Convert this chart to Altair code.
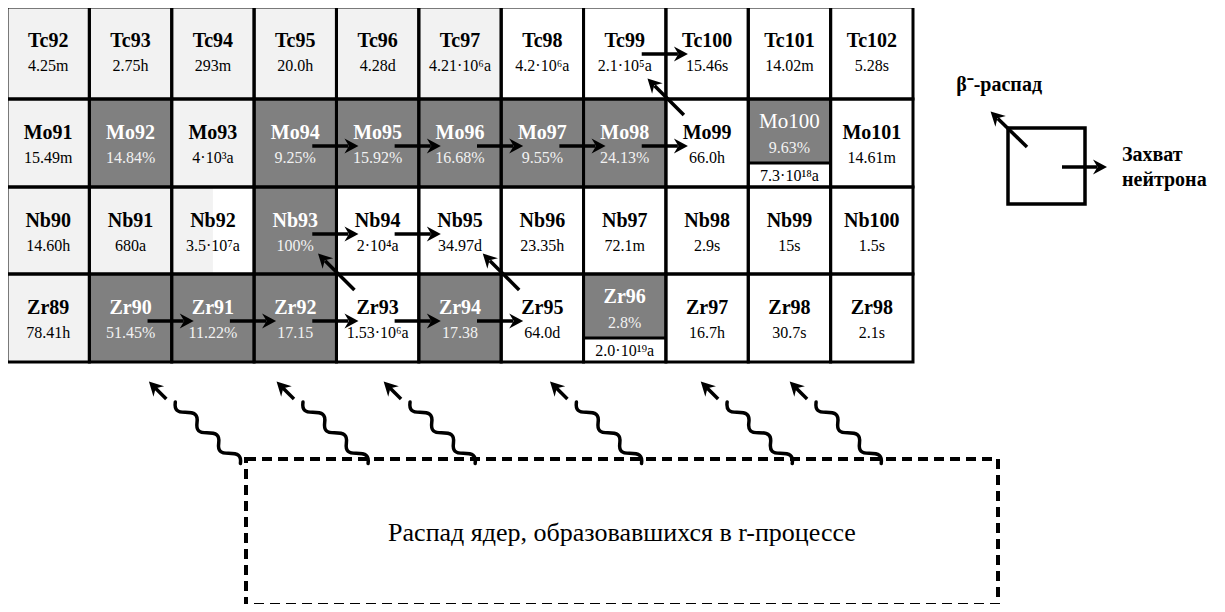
import math
import altair as alt
import pandas as pd

# ---------------- data ----------------
tc_labels = ["Tc92", "Tc93", "Tc94", "Tc95", "Tc96", "Tc97", "Tc98", "Tc99", "Tc100", "Tc101", "Tc102"]
tc_values = ["4.25m", "2.75h", "293m", "20.0h", "4.28d", "4.21·10⁶a", "4.2·10⁶a", "2.1·10⁵a", "15.46s", "14.02m", "5.28s"]
tc_kinds = ["L", "L", "L", "L", "L", "L", "W", "W", "W", "W", "W"]

mo_labels = ["Mo91", "Mo92", "Mo93", "Mo94", "Mo95", "Mo96", "Mo97", "Mo98", "Mo99", "Mo100", "Mo101"]
mo_values = ["15.49m", "14.84%", "4·10³a", "9.25%", "15.92%", "16.68%", "9.55%", "24.13%", "66.0h", "9.63%", "14.61m"]
mo_kinds = ["L", "D", "L", "D", "D", "D", "D", "D", "W", "S", "W"]

nb_labels = ["Nb90", "Nb91", "Nb92", "Nb93", "Nb94", "Nb95", "Nb96", "Nb97", "Nb98", "Nb99", "Nb100"]
nb_values = ["14.60h", "680a", "3.5·10⁷a", "100%", "2·10⁴a", "34.97d", "23.35h", "72.1m", "2.9s", "15s", "1.5s"]
nb_kinds = ["L", "L", "H", "D", "W", "W", "W", "W", "W", "W", "W"]

zr_labels = ["Zr89", "Zr90", "Zr91", "Zr92", "Zr93", "Zr94", "Zr95", "Zr96", "Zr97", "Zr98", "Zr98"]
zr_values = ["78.41h", "51.45%", "11.22%", "17.15", "1.53·10⁶a", "17.38", "64.0d", "2.8%", "16.7h", "30.7s", "2.1s"]
zr_kinds = ["L", "D", "D", "D", "W", "D", "W", "S", "W", "W", "W"]

split_labels = ["Mo100", "Zr96"]
split_lifetimes = ["7.3·10¹⁸a", "2.0·10¹⁹a"]
thin_labels = ["Mo100"]

capture_from = ["Tc99", "Mo94", "Mo95", "Mo96", "Mo97", "Mo98", "Nb93", "Nb94",
                "Zr90", "Zr91", "Zr92", "Zr93", "Zr94"]
beta_from = ["Mo99", "Zr93", "Zr95"]

legend_beta = "β⁻-распад"
legend_capture = ["Захват", "нейтрона"]
box_text = "Распад ядер, образовавшихся в r-процессе"

# ---------------- layout ----------------
FONT = "Liberation Serif, Times New Roman, Times, serif"
LIGHT = "#f2f2f2"
DARK = "#808080"
GRID_L, GRID_R = 7, 913
COL_W = (GRID_R - GRID_L) / 11
ROW_EDGES = [7, 99, 187, 274, 362]
SPLIT_OFF = 64
decay_arrow_cols = [1.74, 3.29, 4.59, 6.61, 8.44, 9.52]
DECAY_TIP_Y = 383
BOX = dict(x=246, x2=998, y=459, y2=605)
LEG_BOX = dict(x=1008, x2=1085, y=128, y2=204)
W, H = 1209, 596


def left(c):
    return GRID_L + c * COL_W


rows = [(tc_labels, tc_values, tc_kinds), (mo_labels, mo_values, mo_kinds),
        (nb_labels, nb_values, nb_kinds), (zr_labels, zr_values, zr_kinds)]

pos = {}
fills, borders, splits = [], [], []
bold_t, norm_t = [], []
for r, (labels, values, kinds) in enumerate(rows):
    y1, y2 = ROW_EDGES[r], ROW_EDGES[r + 1]
    for c, (lab, val, k) in enumerate(zip(labels, values, kinds)):
        pos.setdefault(lab, (r, c))
        x1, x2 = left(c), left(c + 1)
        cx = (x1 + x2) / 2
        base = {"L": LIGHT, "D": DARK}.get(k, "white")
        fills.append(dict(x=x1, x2=x2, y=y1, y2=y2, fill=base))
        if k == "H":
            fills.append(dict(x=x1, x2=x1 + 0.5 * COL_W, y=y1, y2=y2, fill=LIGHT))
        if k == "S":
            fills.append(dict(x=x1, x2=x2, y=y1, y2=y1 + SPLIT_OFF, fill=DARK))
            splits.append(dict(x=x1, x2=x2, y=y1 + SPLIT_OFF))
        borders.append(dict(x=x1, x2=x2, y=y1, y2=y2))
        dark = k in ("D", "S")
        lc = "#ffffff" if dark else "black"
        vc = "#f2f2f2" if dark else "black"
        if k == "S":
            ly, vy = y1 + 23, y1 + 49
            life = split_lifetimes[split_labels.index(lab)]
            norm_t.append(dict(x=cx, y=y1 + 77, text=life, size=16, color="black"))
        else:
            ly, vy = y1 + 34, y1 + 59
        if lab in thin_labels:
            norm_t.append(dict(x=cx, y=ly, text=lab, size=21, color=lc))
        else:
            bold_t.append(dict(x=cx, y=ly, text=lab, size=20, color=lc))
        norm_t.append(dict(x=cx, y=vy, text=val, size=16, color=vc))

# arrows: shafts (rules) + heads (points)
shafts, heads = [], []


def add_arrow(x0, y0, x1, y1, back=8):
    dx, dy = x1 - x0, y1 - y0
    L = math.hypot(dx, dy)
    ux, uy = dx / L, dy / L
    shafts.append(dict(x=x0, y=y0, x2=x1 - back * ux, y2=y1 - back * uy))
    heads.append(dict(x=x1, y=y1, angle=math.degrees(math.atan2(dy, dx)) % 360))


for lab in capture_from:
    r, c = pos[lab]
    y = ROW_EDGES[r] + 47
    add_arrow(left(c) + COL_W / 2 + 17, y, left(c + 1) + 20, y)

for lab in beta_from:
    r, c = pos[lab]
    top = ROW_EDGES[r]
    add_arrow(left(c) + 18, top + 16, left(c) - 17, top - 19)

# legend arrows
add_arrow(LEG_BOX["x"] + 19, LEG_BOX["y"] + 19, LEG_BOX["x"] - 16, LEG_BOX["y"] - 15)
add_arrow(LEG_BOX["x"] + 54, LEG_BOX["y"] + 39, LEG_BOX["x2"] + 20, LEG_BOX["y"] + 39)

# decay (wavy) arrows
waves = []
for cpos in decay_arrow_cols:
    tx = left(cpos)
    add_arrow(tx + 16, DECAY_TIP_Y + 16, tx, DECAY_TIP_Y, back=7)
    waves.append(dict(x=tx + 25, y=DECAY_TIP_Y + 19))

leg_beta_t = [dict(x=1042, y=85, text=legend_beta, size=20)]
leg_cap_t = [dict(x=1122, y=155, text=legend_capture[0], size=20),
             dict(x=1122, y=180, text=legend_capture[1], size=20)]
norm_t.append(dict(x=(BOX["x"] + BOX["x2"]) / 2, y=533, text=box_text, size=26, color="black"))


def wave_path(steps=3, a=21.7, b=20.5):
    d = "M0,0"
    for k in range(steps):
        x, y = k * a, k * b
        d += f" C{x - 0.05 * a:.2f},{y + 0.4 * b:.2f} {x + 0.1 * a:.2f},{y + 0.5 * b:.2f} {x + 0.45 * a:.2f},{y + 0.5 * b:.2f}"
        d += f" C{x + 0.9 * a:.2f},{y + 0.5 * b:.2f} {x + 1.05 * a:.2f},{y + 0.6 * b:.2f} {x + a:.2f},{y + b:.2f}"
    return d


HEAD = "M2,0 L-12,-7.5 L-7.5,0 L-12,7.5 Z"

# ---------------- chart ----------------
xs = alt.Scale(domain=[8, 8 + W], nice=False, zero=False)
ys = alt.Scale(domain=[8, 8 + H], nice=False, zero=False, reverse=True)
X = alt.X("x:Q", scale=xs, axis=None)
Y = alt.Y("y:Q", scale=ys, axis=None)

fill_layer = alt.Chart(pd.DataFrame(fills)).mark_rect(strokeWidth=0).encode(
    x=X, x2="x2:Q", y=Y, y2="y2:Q", color=alt.Color("fill:N", scale=None))

border_layer = alt.Chart(pd.DataFrame(borders)).mark_rect(
    fillOpacity=0, stroke="black", strokeWidth=3).encode(x=X, x2="x2:Q", y=Y, y2="y2:Q")

split_layer = alt.Chart(pd.DataFrame(splits)).mark_rule(
    color="black", strokeWidth=3).encode(x=X, x2="x2:Q", y=Y)

bold_cells = alt.Chart(pd.DataFrame(bold_t)).mark_text(
    font=FONT, fontWeight="bold", baseline="middle", align="center").encode(
    x=X, y=Y, text="text:N", size=alt.Size("size:Q", scale=None), color=alt.Color("color:N", scale=None))

norm_layer = alt.Chart(pd.DataFrame(norm_t)).mark_text(
    font=FONT, baseline="middle", align="center").encode(
    x=X, y=Y, text="text:N", size=alt.Size("size:Q", scale=None), color=alt.Color("color:N", scale=None))

legend_beta_layer = alt.Chart(pd.DataFrame(leg_beta_t)).mark_text(
    font=FONT, fontWeight="bold", baseline="middle", align="right", color="black").encode(
    x=X, y=Y, text="text:N", size=alt.Size("size:Q", scale=None))

legend_cap_layer = alt.Chart(pd.DataFrame(leg_cap_t)).mark_text(
    font=FONT, fontWeight="bold", baseline="middle", align="left", color="black").encode(
    x=X, y=Y, text="text:N", size=alt.Size("size:Q", scale=None))

leg_box = alt.Chart(pd.DataFrame([LEG_BOX])).mark_rect(
    fill="white", stroke="black", strokeWidth=3.5).encode(x=X, x2="x2:Q", y=Y, y2="y2:Q")

dash_box = alt.Chart(pd.DataFrame([BOX])).mark_rect(
    fillOpacity=0, stroke="black", strokeWidth=4, strokeDash=[10, 6]).encode(
    x=X, x2="x2:Q", y=Y, y2="y2:Q")

shaft_layer = alt.Chart(pd.DataFrame(shafts)).mark_rule(
    color="black", strokeWidth=3.5).encode(x=X, y=Y, x2="x2:Q", y2="y2:Q")

head_layer = alt.Chart(pd.DataFrame(heads)).mark_point(
    shape=HEAD, size=4, filled=True, color="black", opacity=1, strokeWidth=0).encode(
    x=X, y=Y, angle=alt.Angle("angle:Q", scale=None))

wave_layer = alt.Chart(pd.DataFrame(waves)).mark_point(
    shape=wave_path(), size=4, filled=False, color="black", opacity=1,
    strokeWidth=3.5, strokeCap="round").encode(x=X, y=Y)

chart = alt.layer(
    fill_layer, border_layer, split_layer, bold_cells, norm_layer,
    leg_box, legend_beta_layer, legend_cap_layer, dash_box,
    wave_layer, shaft_layer, head_layer,
).properties(
    width=W, height=H, padding=0, autosize=alt.AutoSizeParams(type="none"),
    background="white",
).configure_view(stroke=None)

chart.save("out.html", embed_options={"renderer": "svg", "actions": False})
